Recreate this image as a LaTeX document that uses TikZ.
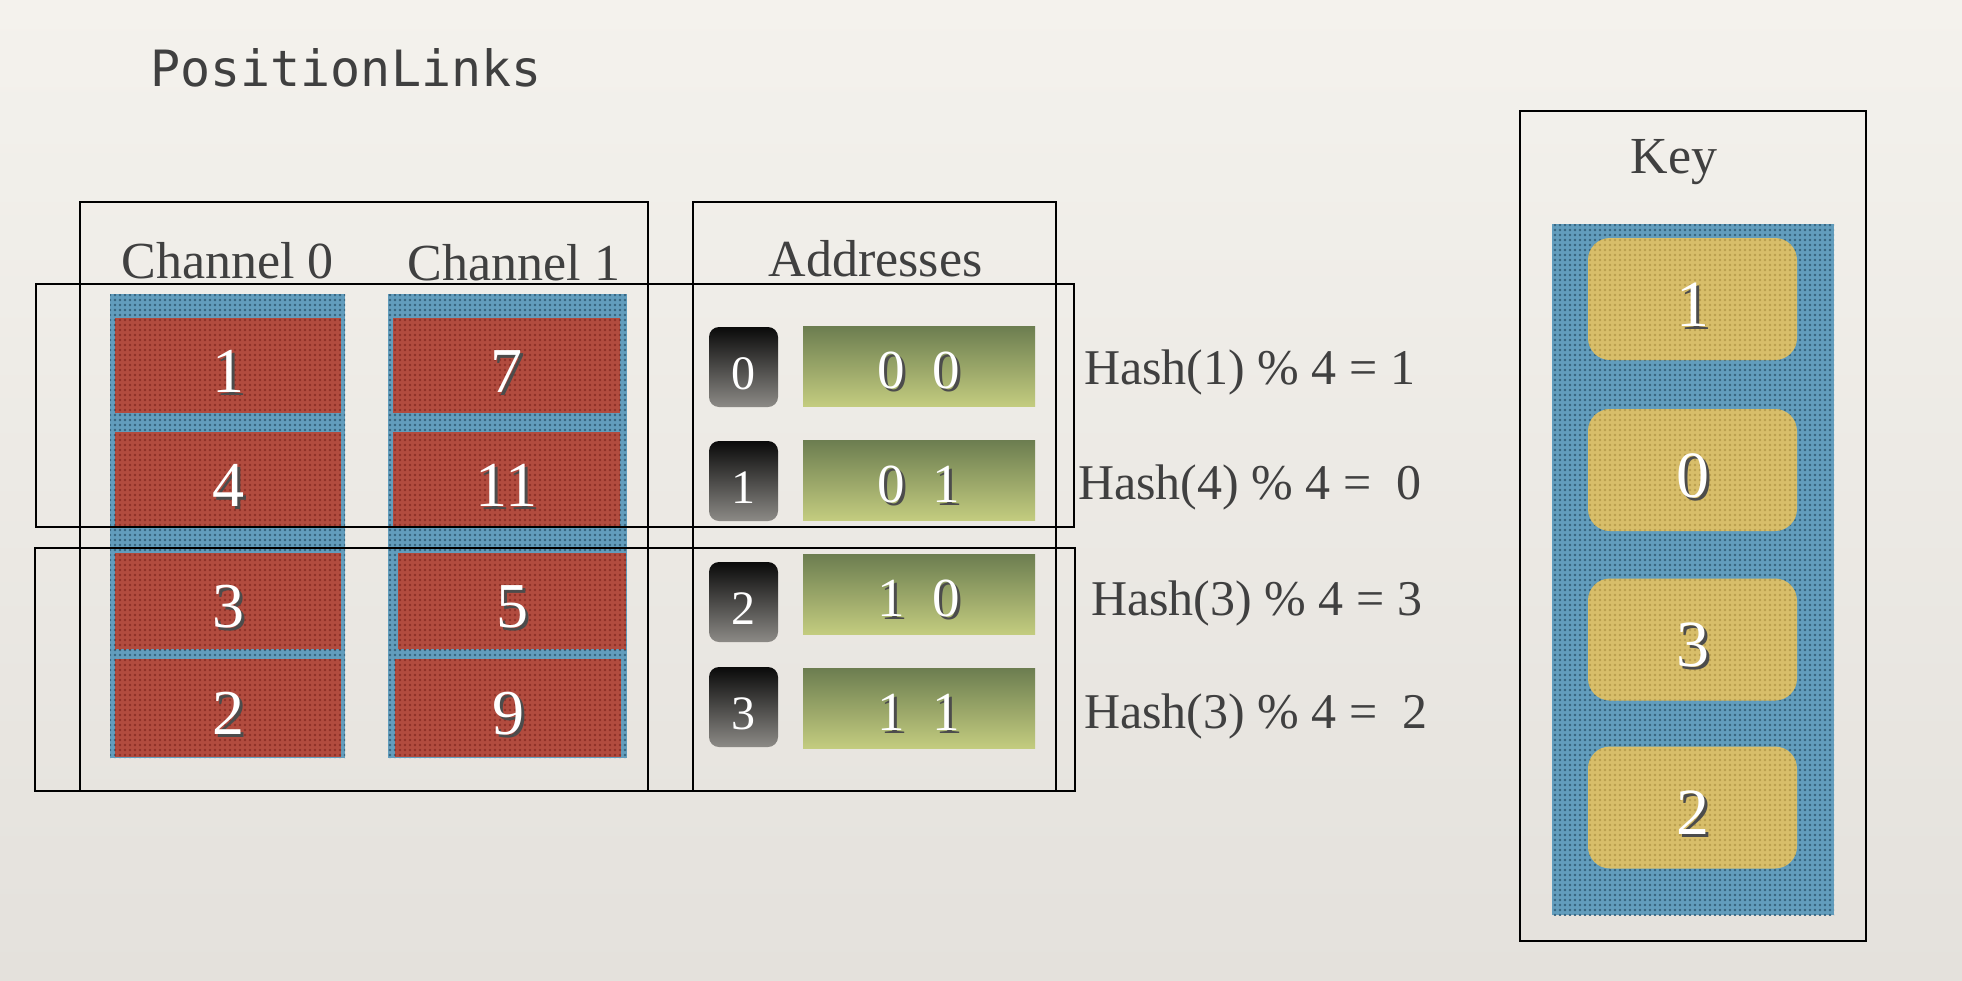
\documentclass[tikz,border=0pt]{standalone}
\usepackage{fontspec}
\setmainfont{Liberation Serif}
\newfontfamily\monofnt{DejaVu Sans Mono}
\usetikzlibrary{patterns.meta}

\definecolor{paperA}{HTML}{F4F2ED}
\definecolor{paperB}{HTML}{E4E1DC}
\definecolor{inkgray}{HTML}{404040}
\definecolor{redc}{HTML}{B24C3F}
\definecolor{redd}{HTML}{8E3127}
\definecolor{bluec}{HTML}{629DBD}
\definecolor{blued}{HTML}{36637E}
\definecolor{yelc}{HTML}{D8BE6A}
\definecolor{yeld}{HTML}{BA9F4E}
\definecolor{greent}{HTML}{6C7D50}
\definecolor{greenb}{HTML}{C3CC7F}
\definecolor{blkt}{HTML}{0A0A0A}
\definecolor{blkb}{HTML}{8C8A86}

\newcommand\shd[1]{\rlap{\kern3pt\raisebox{-3pt}{\textcolor{black!70}{#1}}}#1}

\tikzset{
  frame/.style={rectangle, draw=black, line width=2.5pt, fill=none, inner sep=0pt},
  bluecol/.style={rectangle, inner sep=0pt, fill=bluec,
     postaction={pattern={Dots[distance=5pt,radius=1.4pt]}, pattern color=blued}},
  redcell/.style={rectangle, inner sep=0pt, fill=redc,
     postaction={pattern={Dots[distance=5pt,radius=1.4pt]}, pattern color=redd},
     text=white, font=\fontsize{64}{64}\selectfont, text height=53pt, text depth=0pt},
  yelcell/.style={rectangle, rounded corners=22pt, inner sep=0pt, fill=yelc,
     postaction={pattern={Dots[distance=5pt,radius=1.4pt]}, pattern color=yeld},
     minimum width=209pt, minimum height=122pt,
     text=white, font=\fontsize{66}{66}\selectfont, text height=54pt, text depth=0pt},
  idxcell/.style={rectangle, rounded corners=10pt, inner sep=0pt,
     top color=blkt, bottom color=blkb, minimum width=69pt, minimum height=80pt,
     text=white, font=\fontsize{48}{48}\selectfont, text height=44.5pt, text depth=0pt},
  grncell/.style={rectangle, inner sep=0pt, top color=greent, bottom color=greenb,
     minimum width=232pt, minimum height=80pt,
     text=white, font=\fontsize{55}{55}\selectfont, text height=45pt, text depth=0pt},
  heading/.style={text=inkgray, font=\fontsize{52}{55}\selectfont, inner sep=0pt, anchor=base},
  hashlbl/.style={text=inkgray, font=\fontsize{50}{55}\selectfont, inner sep=0pt, anchor=base west},
}

\begin{document}
\begin{tikzpicture}[x=1pt,y=-1pt]
\useasboundingbox (0,0) rectangle (1962,980);
\shade[top color=paperA, bottom color=paperB] (0,0) rectangle (1962,980);

% title
\node[text=inkgray, font=\monofnt\fontsize{50}{55}\selectfont, inner sep=0pt, anchor=base west] (title) at (150,86) {PositionLinks};

% headings
\node[heading] (h0) at (227.5,278) {Channel 0};
\node[heading] (h1) at (514,280) {Channel 1};
\node[heading] (ha) at (875.5,276) {Addresses};

% channel columns
\node[bluecol, minimum width=235pt, minimum height=464pt] (col0) at (227.5,526) {};
\node[bluecol, minimum width=239pt, minimum height=464pt] (col1) at (507.5,526) {};

\node[redcell, minimum width=226pt, minimum height=95pt] (c01) at (228,365.5) {\shd{1}};
\node[redcell, minimum width=226pt, minimum height=95pt] (c02) at (228,479.5) {\shd{4}};
\node[redcell, minimum width=226pt, minimum height=96pt] (c03) at (228,601) {\shd{3}};
\node[redcell, minimum width=226pt, minimum height=98pt] (c04) at (228,708) {\shd{2}};

\node[redcell, minimum width=227pt, minimum height=95pt] (c11) at (506.5,365.5) {\shd{7}};
\node[redcell, minimum width=227pt, minimum height=95pt] (c12) at (506.5,479.5) {\shd{11}};
\node[redcell, minimum width=228pt, minimum height=96pt] (c13) at (512,601) {\shd{5}};
\node[redcell, minimum width=226pt, minimum height=98pt] (c14) at (508,708) {\shd{9}};

% addresses
\node[idxcell] (i0) at (743.5,367) {0};
\node[idxcell] (i1) at (743.5,481) {1};
\node[idxcell] (i2) at (743.5,602) {2};
\node[idxcell] (i3) at (743.5,707) {3};

\node[grncell] (a0) at (919,366) {\shd{0\ \ 0}};
\node[grncell] (a1) at (919,480) {\shd{0\ \ 1}};
\node[grncell] (a2) at (919,594) {\shd{1\ \ 0}};
\node[grncell] (a3) at (919,708) {\shd{1\ \ 1}};

% hash labels
\node[hashlbl] (hs0) at (1084,384) {Hash(1) \% 4 = 1};
\node[hashlbl] (hs1) at (1078,499) {Hash(4) \% 4 = \ 0};
\node[hashlbl] (hs2) at (1091,615) {Hash(3) \% 4 = 3};
\node[hashlbl] (hs3) at (1084,728) {Hash(3) \% 4 = \ 2};

% frames
\node[frame, line width=2pt, minimum width=568pt, minimum height=589pt] (chbox) at (364,496.5) {};
\node[frame, line width=2pt, minimum width=363pt, minimum height=589pt] (addrbox) at (874.5,496.5) {};
\node[frame, minimum width=1038pt, minimum height=243pt] (row1) at (555,405.5) {};
\node[frame, minimum width=1040pt, minimum height=243pt] (row2) at (555,669.5) {};

% key
\node[frame, minimum width=346pt, minimum height=830pt] (keybox) at (1693,526) {};
\node[heading] (hk) at (1674,173) {Key};
\node[bluecol, minimum width=282pt, minimum height=691pt] (keycol) at (1693,569.5) {};
\node[yelcell] (k0) at (1692.5,299) {\shd{1}};
\node[yelcell] (k1) at (1692.5,470) {\shd{0}};
\node[yelcell] (k2) at (1692.5,639.5) {\shd{3}};
\node[yelcell] (k3) at (1692.5,807.5) {\shd{2}};
\end{tikzpicture}
\end{document}
